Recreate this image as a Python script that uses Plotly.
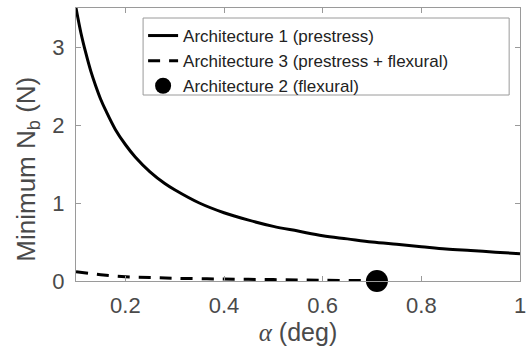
import plotly.graph_objects as go

# Architecture 1 (prestress)
arch1_alpha = [0.10, 0.11, 0.12, 0.13, 0.14, 0.15, 0.16, 0.18, 0.20, 0.22, 0.25, 0.28,
               0.30, 0.35, 0.40, 0.45, 0.50, 0.55, 0.60, 0.65, 0.70, 0.75, 0.80, 0.85,
               0.90, 0.95, 1.00]
arch1_nb = [3.50, 3.18, 2.92, 2.69, 2.50, 2.33, 2.19, 1.94, 1.75, 1.59, 1.40, 1.25,
            1.17, 1.00, 0.875, 0.78, 0.70, 0.64, 0.58, 0.54, 0.50, 0.47, 0.44, 0.41,
            0.39, 0.37, 0.35]

# Architecture 3 (prestress + flexural)
arch3_alpha = [0.10, 0.15, 0.20, 0.25, 0.30, 0.40, 0.50, 0.60, 0.70, 0.71]
arch3_nb = [0.12, 0.08, 0.055, 0.045, 0.035, 0.025, 0.018, 0.010, 0.003, 0.0]

# Architecture 2 (flexural)
arch2_alpha = [0.71]
arch2_nb = [0.0]

x_tickvals = [0.2, 0.4, 0.6, 0.8, 1.0]
x_ticktext = ["0.2", "0.4", "0.6", "0.8", "1"]
y_tickvals = [0, 1, 2, 3]
y_ticktext = ["0", "1", "2", "3"]

x_title = "<span style=\"font-family:'Liberation Serif'\"><i>α</i></span> (deg)"
y_title = "Minimum N<sub>b</sub> (N)"

FONT = "Liberation Sans, Arial, Helvetica, sans-serif"
AXIS_COLOR = "#9a9a9a"
TEXT_COLOR = "#4a4a4a"

fig = go.Figure()
fig.add_trace(go.Scatter(
    x=arch1_alpha, y=arch1_nb, mode="lines", line_shape="spline",
    line=dict(color="black", width=3),
    name="Architecture 1 (prestress)"))
fig.add_trace(go.Scatter(
    x=arch3_alpha, y=arch3_nb, mode="lines", line_shape="spline",
    line=dict(color="black", width=3, dash="12px,9px"),
    name="Architecture 3 (prestress + flexural)"))
fig.add_trace(go.Scatter(
    x=arch2_alpha, y=arch2_nb, mode="markers",
    marker=dict(color="black", size=22),
    name="Architecture 2 (flexural)", cliponaxis=False))

axis_common = dict(
    showline=True, linecolor=AXIS_COLOR, linewidth=1, mirror="ticks",
    ticks="inside", ticklen=5, tickcolor=AXIS_COLOR, tickwidth=1,
    showgrid=False, zeroline=False, ticklabeloverflow="allow",
    tickfont=dict(family=FONT, size=22, color=TEXT_COLOR),
)

# legend frame (drawn as a shape so its size matches the reference)
fig.add_shape(type="rect", xref="paper", yref="paper",
              x0=(144 - 76) / 450, x1=(515 - 76) / 450,
              y0=(281 - 95) / 273, y1=(281 - 18) / 273,
              line=dict(color=AXIS_COLOR, width=1), fillcolor="white", layer="above")

# y-axis title placed as in the reference
fig.add_annotation(text=y_title, xref="paper", yref="paper",
                   x=(26 - 76) / 450, y=(281 - 169) / 273,
                   xanchor="center", yanchor="middle", textangle=-90, showarrow=False,
                   font=dict(family=FONT, size=26, color=TEXT_COLOR))

fig.update_layout(
    width=531, height=349,
    margin=dict(l=76, r=5, t=8, b=68),
    paper_bgcolor="white", plot_bgcolor="white",
    font=dict(family=FONT, color=TEXT_COLOR),
    xaxis=dict(
        range=[0.1, 1.0], tickvals=x_tickvals, ticktext=x_ticktext,
        ticklabelstandoff=5,
        title=dict(text=x_title,
                   font=dict(family=FONT, size=25, color=TEXT_COLOR), standoff=0),
        **axis_common),
    yaxis=dict(
        range=[0, 3.5], tickvals=y_tickvals, ticktext=y_ticktext,
        ticklabelstandoff=6,
        **axis_common),
    legend=dict(
        x=(144 - 76) / 450, y=(281 - 18) / 273, xanchor="left", yanchor="top",
        bgcolor="rgba(0,0,0,0)", borderwidth=0,
        font=dict(family=FONT, size=17, color="#222222"),
        itemwidth=30, tracegroupgap=0,
    ),
    showlegend=True,
)

fig.write_html("out.html")
